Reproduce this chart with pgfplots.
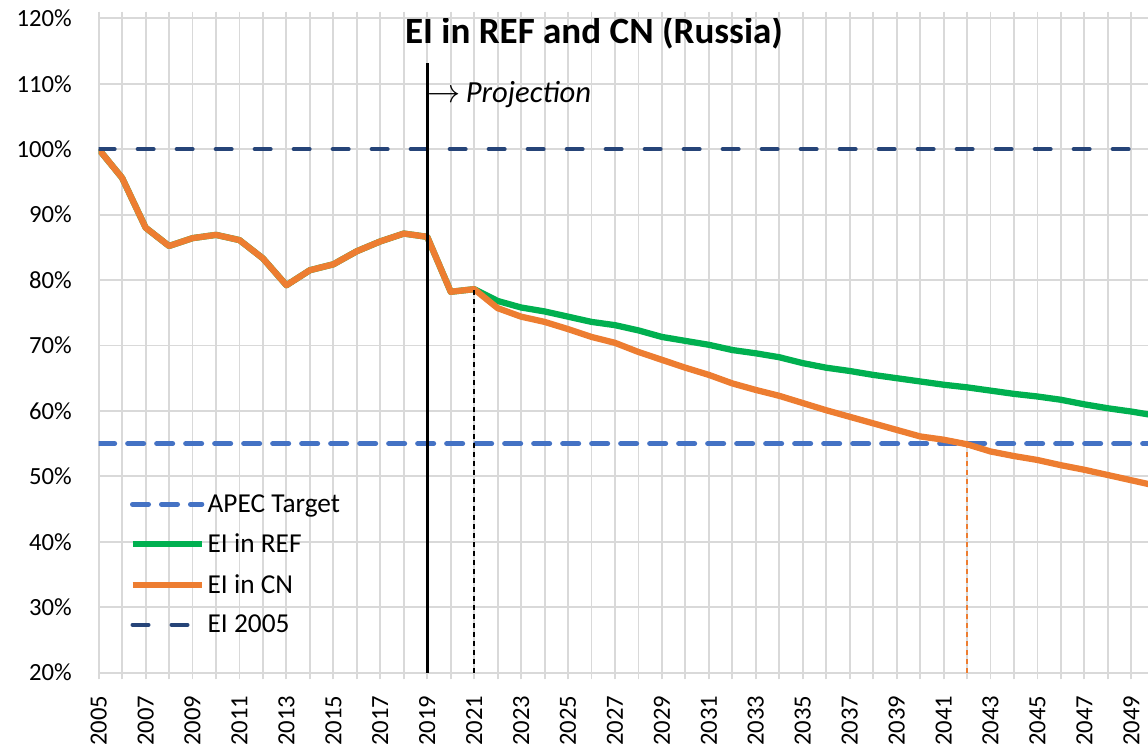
\documentclass[border=0pt]{standalone}
\usepackage{pgfplots}
\pgfplotsset{compat=1.18}
\usepackage{fontspec}
\setmainfont{Carlito}
\definecolor{apec}{HTML}{4472C4}
\definecolor{refc}{HTML}{00B050}
\definecolor{cnc}{HTML}{ED7D31}
\definecolor{eic}{HTML}{264478}
\definecolor{grd}{HTML}{D9D9D9}
\begin{document}
\begin{tikzpicture}
\begin{axis}[
  scale only axis, width=787pt, height=490.8pt,
  xmin=2005, xmax=2049.71, ymin=20, ymax=120,
  axis line style={draw=none},
  xtick={2005,2007,...,2049},
  minor xtick={2006,2008,...,2050},
  xticklabels={2005,2007,2009,2011,2013,2015,2017,2019,2021,2023,2025,2027,2029,2031,2033,2035,2037,2039,2041,2043,2045,2047,2049},
  ytick={20,30,...,120},
  yticklabels={20\%,30\%,40\%,50\%,60\%,70\%,80\%,90\%,100\%,110\%,120\%},
  grid=both,
  major grid style={grd, line width=1.4pt},
  minor grid style={grd, line width=1.4pt},
  tick align=outside,
  major tick length=5pt, minor tick length=5pt,
  xtick style={grd, line width=1.4pt},
  minor tick style={grd, line width=1.4pt},
  ytick style={draw=none},
  every tick label/.append style={font=\fontsize{18.5}{21}\selectfont, text=black},
  xticklabel style={rotate=90, anchor=east, inner sep=0pt, yshift=0pt, xshift=-12pt},
  yticklabel style={anchor=east, inner sep=0pt, xshift=-15pt},
  legend style={draw=none, fill=none, at={(0.029,0.277)}, anchor=north west,
    font=\fontsize{20.5}{23}\selectfont, row sep=10.8pt, inner sep=0pt},
  legend cell align=left,
  legend image code/.code={\draw[#1] (0pt,0pt) -- (52pt,0pt);},
]
\coordinate (bl) at (rel axis cs:0,0);
\coordinate (tr) at (rel axis cs:1,1);

\addplot[apec, line width=3.75pt, line cap=round, dash pattern=on 12pt off 9.75pt] coordinates {(2005,55) (2050,55)};
\addlegendentry{APEC Target}

\addplot[refc, line width=4.7pt, line join=round] coordinates {
(2005,100) (2006,95.6) (2007,88.0) (2008,85.2) (2009,86.4) (2010,86.9) (2011,86.1) (2012,83.3) (2013,79.2) (2014,81.5) (2015,82.4) (2016,84.4) (2017,85.9) (2018,87.1) (2019,86.6) (2020,78.2) (2021,78.6)
(2022,76.8) (2023,75.8) (2024,75.2) (2025,74.4) (2026,73.6) (2027,73.1) (2028,72.3) (2029,71.3) (2030,70.7) (2031,70.1) (2032,69.3) (2033,68.8) (2034,68.2) (2035,67.3) (2036,66.6) (2037,66.1) (2038,65.5) (2039,65.0) (2040,64.5) (2041,64.0) (2042,63.6) (2043,63.1) (2044,62.6) (2045,62.2) (2046,61.7) (2047,61.0) (2048,60.4) (2049,59.9) (2050,59.3)};
\addlegendentry{EI in REF}

\addplot[cnc, line width=4.7pt, line join=round] coordinates {
(2005,100) (2006,95.6) (2007,88.0) (2008,85.2) (2009,86.4) (2010,86.9) (2011,86.1) (2012,83.3) (2013,79.2) (2014,81.5) (2015,82.4) (2016,84.4) (2017,85.9) (2018,87.1) (2019,86.6) (2020,78.2) (2021,78.6)
(2022,75.7) (2023,74.4) (2024,73.6) (2025,72.5) (2026,71.3) (2027,70.4) (2028,69.0) (2029,67.8) (2030,66.6) (2031,65.5) (2032,64.2) (2033,63.2) (2034,62.3) (2035,61.2) (2036,60.1) (2037,59.1) (2038,58.1) (2039,57.1) (2040,56.1) (2041,55.6) (2042,54.9) (2043,53.8) (2044,53.1) (2045,52.5) (2046,51.7) (2047,51.0) (2048,50.2) (2049,49.4) (2050,48.6)};
\addlegendentry{EI in CN}

\addplot[eic, line width=3pt, line cap=round, dash pattern=on 12pt off 17.25pt] coordinates {(2005,100) (2050,100)};
\addlegendentry{EI 2005}

\addplot[black, line width=1.9pt, forget plot] coordinates {(2019,20) (2019,113.2)};
\addplot[black, line width=1.1pt, dash pattern=on 3.75pt off 3pt, forget plot] coordinates {(2021,20) (2021,78.6)};
\addplot[cnc, line width=1.1pt, dash pattern=on 3.75pt off 3pt, forget plot] coordinates {(2042,20) (2042,55)};

\node[font=\bfseries\fontsize{27.8}{32}\selectfont] at (rel axis cs:0.472,0.9775) {EI in REF and CN (Russia)};
\node[anchor=west, font=\itshape\fontsize{23}{27}\selectfont, inner sep=0pt] at (axis cs:2019,108.3) {$\rightarrow$\,Projection};
\end{axis}
\pgfresetboundingbox
\path[use as bounding box] ([xshift=-74.0pt, yshift=-54.2pt]bl) rectangle ([yshift=13.7pt]tr);
\end{tikzpicture}
\end{document}
